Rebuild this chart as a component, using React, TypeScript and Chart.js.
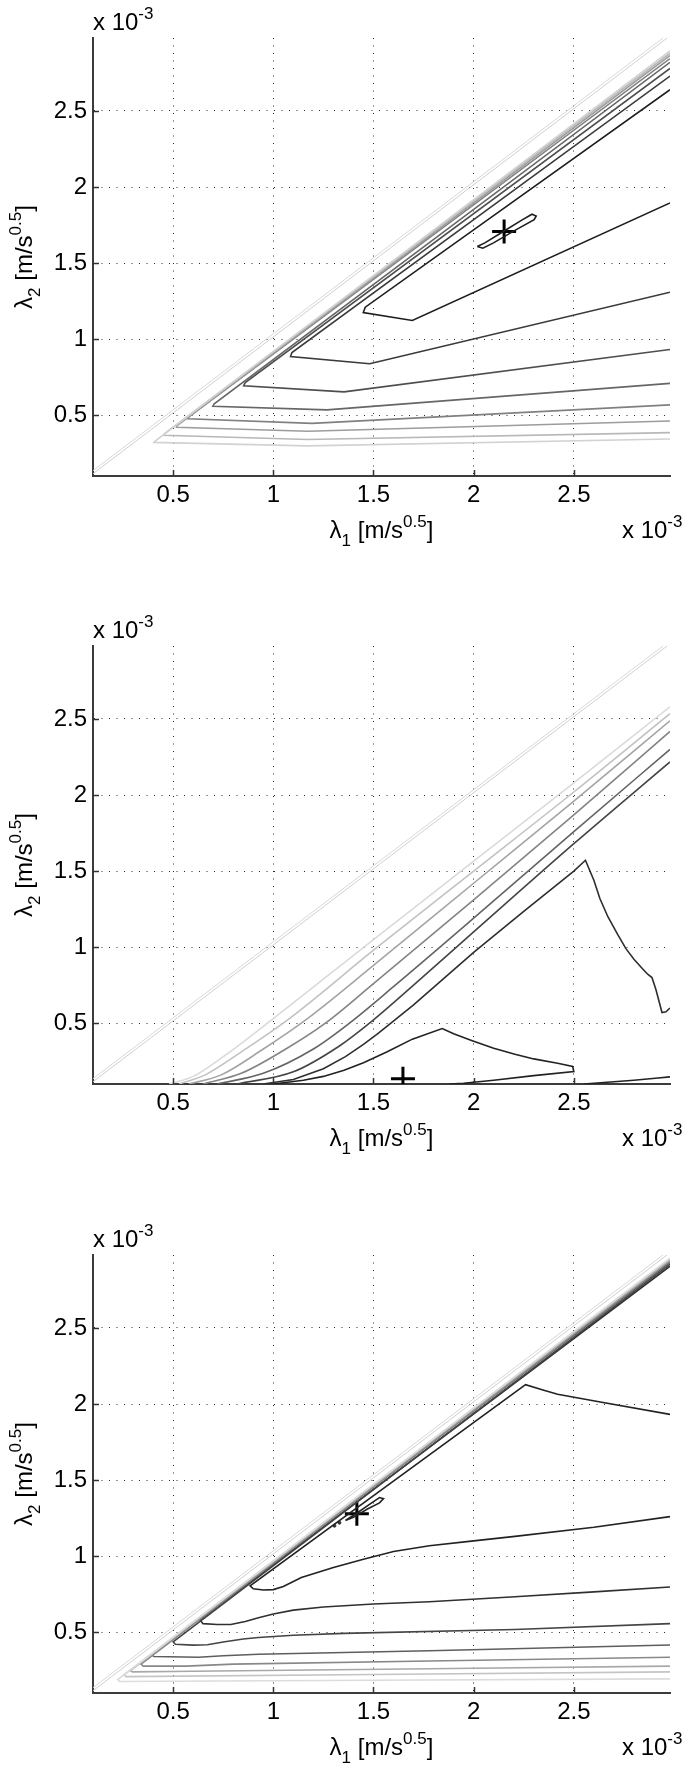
import React, { useEffect, useRef } from "react";
import { Chart, registerables } from "chart.js";

Chart.register(...registerables);

type Pt = [number, number];

// ---------- axes ----------
const AXIS_MIN = 0.1;
const AXIS_MAX = 2.98;
const X_TICKS = [0.5, 1, 1.5, 2, 2.5];
const Y_TICKS = [0.5, 1, 1.5, 2, 2.5];
const X_TICK_LABELS = ["0.5", "1", "1.5", "2", "2.5"];
const Y_TICK_LABELS = ["0.5", "1", "1.5", "2", "2.5"];

// diagonal reference (double light line)
const DIAG_1: Pt[] = [[0.1, 0.115], [2.98, 2.995]];
const DIAG_2: Pt[] = [[0.1, 0.135], [2.98, 3.015]];

// ---------- panel 1 ----------
const P1_A: Pt[] = [[2.98, 2.64], [1.459, 1.21], [1.449, 1.175], [1.694, 1.123], [2.98, 1.896]];
const P1_B: Pt[] = [[2.98, 2.73], [1.093, 0.912], [1.086, 0.885], [1.481, 0.838], [2.98, 1.308]];
const P1_C: Pt[] = [[2.98, 2.78], [0.86, 0.714], [0.852, 0.693], [1.353, 0.653], [2.98, 0.932]];
const P1_D: Pt[] = [[2.98, 2.82], [0.705, 0.575], [0.698, 0.559], [1.268, 0.535], [2.98, 0.709]];
const P1_E: Pt[] = [[2.98, 2.845], [0.58, 0.49], [0.575, 0.476], [1.193, 0.446], [2.98, 0.568]];
const P1_F: Pt[] = [[2.98, 2.865], [0.52, 0.432], [0.517, 0.42], [1.172, 0.394], [2.98, 0.462]];
const P1_G: Pt[] = [[2.98, 2.88], [0.458, 0.38], [0.453, 0.368], [1.172, 0.34], [2.98, 0.385]];
const P1_H: Pt[] = [[2.98, 2.895], [0.41, 0.33], [0.404, 0.321], [1.172, 0.298], [2.98, 0.343]];
const P1_LOOP: Pt[] = [
  [2.018, 1.609], [2.056, 1.633], [2.142, 1.703], [2.238, 1.781], [2.291, 1.821],
  [2.312, 1.809], [2.302, 1.786], [2.206, 1.715], [2.099, 1.633], [2.046, 1.598], [2.018, 1.609],
];
const P1_OPT: Pt[] = [[2.152, 1.708]];
const P1_COLORS = ["#1e1e1e", "#3a3a3a", "#4e4e4e", "#666666", "#808080", "#9c9c9c", "#b8b8b8", "#d2d2d2"];

// ---------- panel 2 ----------
const P2_L1: Pt[] = [[0.48, 0.1], [0.6, 0.15], [0.75, 0.28], [1.0, 0.53], [1.5, 1.05], [2.0, 1.565], [2.5, 2.08], [2.98, 2.58]];
const P2_L2: Pt[] = [[0.53, 0.1], [0.66, 0.16], [0.85, 0.32], [1.08, 0.53], [1.5, 0.98], [2.0, 1.5], [2.5, 2.02], [2.98, 2.535]];
const P2_L3: Pt[] = [[0.58, 0.1], [0.74, 0.16], [0.95, 0.33], [1.16, 0.52], [1.5, 0.88], [2.0, 1.42], [2.5, 1.96], [2.98, 2.488]];
const P2_L4: Pt[] = [[0.65, 0.1], [0.84, 0.17], [1.05, 0.32], [1.26, 0.5], [1.5, 0.76], [2.0, 1.31], [2.5, 1.87], [2.98, 2.418]];
const P2_L5: Pt[] = [[0.72, 0.1], [0.95, 0.17], [1.2, 0.33], [1.38, 0.5], [1.6, 0.74], [2.0, 1.19], [2.5, 1.76], [2.98, 2.3]];
const P2_L6: Pt[] = [[0.82, 0.1], [1.1, 0.18], [1.33, 0.35], [1.48, 0.5], [1.7, 0.75], [2.0, 1.1], [2.5, 1.68], [2.98, 2.218]];
const P2_PEAK: Pt[] = [
  [0.95, 0.1], [1.1, 0.13], [1.25, 0.2], [1.36, 0.28], [1.45, 0.36], [1.52, 0.43], [1.587, 0.5],
  [1.7, 0.62], [1.8, 0.735], [1.9, 0.85], [2.0, 0.965], [2.25, 1.235], [2.5, 1.5],
  [2.558, 1.571], [2.6, 1.44], [2.63, 1.32], [2.67, 1.2], [2.72, 1.08], [2.76, 0.99], [2.8, 0.92],
  [2.845, 0.855], [2.87, 0.82], [2.89, 0.8], [2.91, 0.72], [2.94, 0.57], [2.96, 0.575], [2.98, 0.6],
];
const P2_TRI: Pt[] = [
  [1.0, 0.1], [1.15, 0.125], [1.25, 0.15], [1.353, 0.19], [1.45, 0.24], [1.566, 0.31], [1.694, 0.395], [1.843, 0.465],
  [1.9, 0.43], [1.993, 0.385], [2.1, 0.335], [2.206, 0.295], [2.3, 0.265], [2.419, 0.236], [2.494, 0.215], [2.5, 0.182],
  [2.3, 0.155], [2.1, 0.125], [1.95, 0.105], [1.88, 0.1],
];
const P2_LOW: Pt[] = [[2.55, 0.1], [2.8, 0.125], [2.98, 0.147]];
const P2_OPT: Pt[] = [[1.647, 0.135]];
const P2_COLORS = ["#dadada", "#c2c2c2", "#a4a4a4", "#848484", "#646464", "#444444", "#2e2e2e", "#222222", "#222222"];
const P2_SMOOTH = [true, true, true, true, true, true, false, false, true];

// ---------- panel 3 ----------
const P3_C1: Pt[] = [
  [2.98, 1.26], [2.6, 1.19], [2.206, 1.13], [2.0, 1.1], [1.779, 1.068], [1.6, 1.03], [1.45, 0.98], [1.3, 0.925],
  [1.14, 0.86], [1.05, 0.8], [1.0, 0.78], [0.95, 0.777], [0.9, 0.785], [0.884, 0.805],
  [2.259, 2.127], [2.35, 2.09], [2.419, 2.064], [2.632, 2.013], [2.98, 1.932],
];
const P3_C2: Pt[] = [
  [2.98, 2.906], [0.634, 0.581], [0.649, 0.556], [0.72, 0.55], [0.788, 0.55], [0.86, 0.57], [0.926, 0.595],
  [1.0, 0.62], [1.1, 0.645], [1.25, 0.665], [1.5, 0.685], [1.779, 0.7], [2.206, 0.733], [2.6, 0.765], [2.98, 0.797],
];
const P3_C3: Pt[] = [
  [2.98, 2.92], [0.5, 0.437], [0.511, 0.421], [0.6, 0.415], [0.671, 0.417], [0.75, 0.435], [0.85, 0.455],
  [0.926, 0.465], [1.1, 0.48], [1.353, 0.492], [2.206, 0.518], [2.98, 0.556],
];
const P3_C4: Pt[] = [
  [2.98, 2.93], [0.393, 0.353], [0.404, 0.34], [0.628, 0.335], [0.75, 0.345], [0.926, 0.355], [1.779, 0.378], [2.98, 0.416],
];
const P3_C5: Pt[] = [[2.98, 2.94], [0.34, 0.29], [0.351, 0.277], [0.564, 0.277], [0.8, 0.29], [1.779, 0.31], [2.98, 0.335]];
const P3_C6: Pt[] = [[2.98, 2.948], [0.287, 0.247], [0.297, 0.239], [0.6, 0.243], [1.779, 0.259], [2.98, 0.277]];
const P3_C7: Pt[] = [[2.98, 2.955], [0.255, 0.219], [0.265, 0.208], [1.5, 0.222], [2.98, 0.239]];
const P3_C8: Pt[] = [[2.98, 2.96], [0.223, 0.188], [0.233, 0.176], [1.5, 0.184], [2.98, 0.193]];
const P3_LOOP: Pt[] = [[1.36, 1.235], [1.42, 1.285], [1.48, 1.34], [1.53, 1.385], [1.55, 1.378], [1.53, 1.35], [1.47, 1.31], [1.4, 1.255], [1.36, 1.235]];
const P3_DOTS: Pt[] = [[1.33, 1.22], [1.305, 1.2]];
const P3_OPT: Pt[] = [[1.417, 1.278]];
const P3_COLORS = ["#222222", "#303030", "#444444", "#5e5e5e", "#888888", "#a8a8a8", "#c4c4c4", "#dcdcdc"];

// ---------- styling ----------
const FONT = '"Liberation Sans", Arial, Helvetica, sans-serif';
const CANVAS_W = 685;
const CANVAS_H = 560;
const PLOT_TOP = 38;
const PLOT_BOTTOM = 476;
const PLOT_LEFT = 93;
const PLOT_RIGHT = 683;

type Seg = { t: string; s: number; dy: number };

function drawRich(ctx: CanvasRenderingContext2D, segs: Seg[], x: number, y: number, align: "left" | "center" | "right") {
  let w = 0;
  for (const g of segs) {
    ctx.font = `${g.s}px ${FONT}`;
    w += ctx.measureText(g.t).width;
  }
  let cx = align === "center" ? x - w / 2 : align === "right" ? x - w : x;
  ctx.textAlign = "left";
  ctx.textBaseline = "alphabetic";
  for (const g of segs) {
    ctx.font = `${g.s}px ${FONT}`;
    ctx.fillText(g.t, cx, y + g.dy);
    cx += ctx.measureText(g.t).width;
  }
}

const overlayPlugin = {
  id: "overlay",
  afterDraw(chart: any) {
    const ctx: CanvasRenderingContext2D = chart.ctx;
    const xs = chart.scales.x;
    const ys = chart.scales.y;
    const area = chart.chartArea;
    ctx.save();
    ctx.strokeStyle = "#333";
    ctx.lineWidth = 1.5;
    ctx.setLineDash([]);
    for (const v of X_TICKS) {
      const px = Math.round(xs.getPixelForValue(v)) + 0.5;
      ctx.beginPath();
      ctx.moveTo(px, area.bottom);
      ctx.lineTo(px, area.bottom - 6);
      ctx.stroke();
    }
    for (const v of Y_TICKS) {
      const py = Math.round(ys.getPixelForValue(v)) + 0.5;
      ctx.beginPath();
      ctx.moveTo(area.left, py);
      ctx.lineTo(area.left + 6, py);
      ctx.stroke();
    }
    ctx.fillStyle = "#000";
    const exp: Seg[] = [
      { t: "x 10", s: 24, dy: 0 },
      { t: "-3", s: 17, dy: -11 },
    ];
    drawRich(ctx, exp, area.left, area.top - 8, "left");
    drawRich(ctx, exp, 622, area.bottom + 62, "left");
    const xt: Seg[] = [
      { t: "\u03bb", s: 24, dy: 0 },
      { t: "1", s: 17, dy: 8 },
      { t: " [m/s", s: 24, dy: 0 },
      { t: "0.5", s: 17, dy: -11 },
      { t: "]", s: 24, dy: 0 },
    ];
    drawRich(ctx, xt, (area.left + area.right) / 2, area.bottom + 62, "center");
    const yt: Seg[] = [
      { t: "\u03bb", s: 24, dy: 0 },
      { t: "2", s: 17, dy: 8 },
      { t: " [m/s", s: 24, dy: 0 },
      { t: "0.5", s: 17, dy: -11 },
      { t: "]", s: 24, dy: 0 },
    ];
    ctx.translate(32, (area.top + area.bottom) / 2);
    ctx.rotate(-Math.PI / 2);
    drawRich(ctx, yt, 0, 0, "center");
    ctx.restore();
  },
};

type Curve = { pts: Pt[]; color: string; smooth?: boolean };

function toXY(pts: Pt[]) {
  return pts.map(([x, y]) => ({ x, y }));
}

function buildDatasets(curves: Curve[], opt: Pt[], dots?: Pt[]) {
  const ds: any[] = [];
  ds.push({ data: toXY(DIAG_1), showLine: true, borderColor: "#cfcfcf", borderWidth: 1, pointRadius: 0, tension: 0 });
  ds.push({ data: toXY(DIAG_2), showLine: true, borderColor: "#d8d8d8", borderWidth: 1, pointRadius: 0, tension: 0 });
  for (let i = curves.length - 1; i >= 0; i--) {
    const c = curves[i];
    ds.push({
      data: toXY(c.pts),
      showLine: true,
      borderColor: c.color,
      borderWidth: 1.6,
      pointRadius: 0,
      tension: 0,
      cubicInterpolationMode: c.smooth ? "monotone" : "default",
    });
  }
  if (dots) {
    ds.push({ data: toXY(dots), showLine: false, pointRadius: 1.5, pointBackgroundColor: "#333", borderColor: "#333", borderWidth: 1 });
  }
  ds.push({ data: toXY(opt), showLine: false, pointStyle: "cross", pointRadius: 12, borderWidth: 3, borderColor: "#000" });
  return ds;
}

function makeScale(isX: boolean) {
  const ticksV = isX ? X_TICKS : Y_TICKS;
  const labels = isX ? X_TICK_LABELS : Y_TICK_LABELS;
  return {
    type: "linear",
    min: AXIS_MIN,
    max: AXIS_MAX,
    afterBuildTicks: (s: any) => {
      s.ticks = ticksV.map((v) => ({ value: v }));
    },
    afterFit: (s: any) => {
      if (isX) s.height = CANVAS_H - PLOT_BOTTOM;
      else s.width = PLOT_LEFT;
    },
    ticks: {
      autoSkip: false,
      maxRotation: 0,
      minRotation: 0,
      padding: isX ? 5 : 6,
      color: "#000",
      font: { family: FONT, size: 24 },
      callback: (v: any) => {
        const i = ticksV.indexOf(Number(v));
        return i >= 0 ? labels[i] : "";
      },
    },
    grid: { color: "#2a2a2a", lineWidth: 1, drawTicks: false },
    border: { display: true, color: "#3c3c3c", width: 2, dash: [1, 6.5] },
  };
}

function Panel({ top, datasets }: { top: number; datasets: any[] }) {
  const ref = useRef<HTMLCanvasElement>(null);
  useEffect(() => {
    if (!ref.current) return;
    const chart = new Chart(ref.current, {
      type: "scatter",
      data: { datasets },
      options: {
        animation: false,
        responsive: false,
        maintainAspectRatio: false,
        events: [],
        layout: { padding: { left: 0, right: CANVAS_W - PLOT_RIGHT, top: PLOT_TOP, bottom: 0 } },
        plugins: { legend: { display: false }, tooltip: { enabled: false } },
        scales: { x: makeScale(true) as any, y: makeScale(false) as any },
      },
      plugins: [overlayPlugin],
    } as any);
    return () => chart.destroy();
  }, []);
  return (
    <canvas
      ref={ref}
      width={CANVAS_W}
      height={CANVAS_H}
      style={{ position: "absolute", left: 0, top, width: CANVAS_W, height: CANVAS_H, display: "block" }}
    />
  );
}

export default function App() {
  const p1: Curve[] = [P1_A, P1_B, P1_C, P1_D, P1_E, P1_F, P1_G, P1_H].map((pts, i) => ({ pts, color: P1_COLORS[i] }));
  p1.unshift({ pts: P1_LOOP, color: P1_COLORS[0] });
  const p2: Curve[] = [P2_L1, P2_L2, P2_L3, P2_L4, P2_L5, P2_L6, P2_PEAK, P2_TRI, P2_LOW].map((pts, i) => ({
    pts,
    color: P2_COLORS[i],
    smooth: P2_SMOOTH[i],
  }));
  const p3: Curve[] = [P3_C1, P3_C2, P3_C3, P3_C4, P3_C5, P3_C6, P3_C7, P3_C8].map((pts, i) => ({ pts, color: P3_COLORS[i] }));
  p3.unshift({ pts: P3_LOOP, color: P3_COLORS[0] });
  return (
    <div style={{ position: "absolute", left: 0, top: 0, width: CANVAS_W, height: 1773, background: "#fff" }}>
      <Panel top={0} datasets={buildDatasets(p1, P1_OPT)} />
      <Panel top={608} datasets={buildDatasets(p2, P2_OPT)} />
      <Panel top={1217} datasets={buildDatasets(p3, P3_OPT, P3_DOTS)} />
    </div>
  );
}
